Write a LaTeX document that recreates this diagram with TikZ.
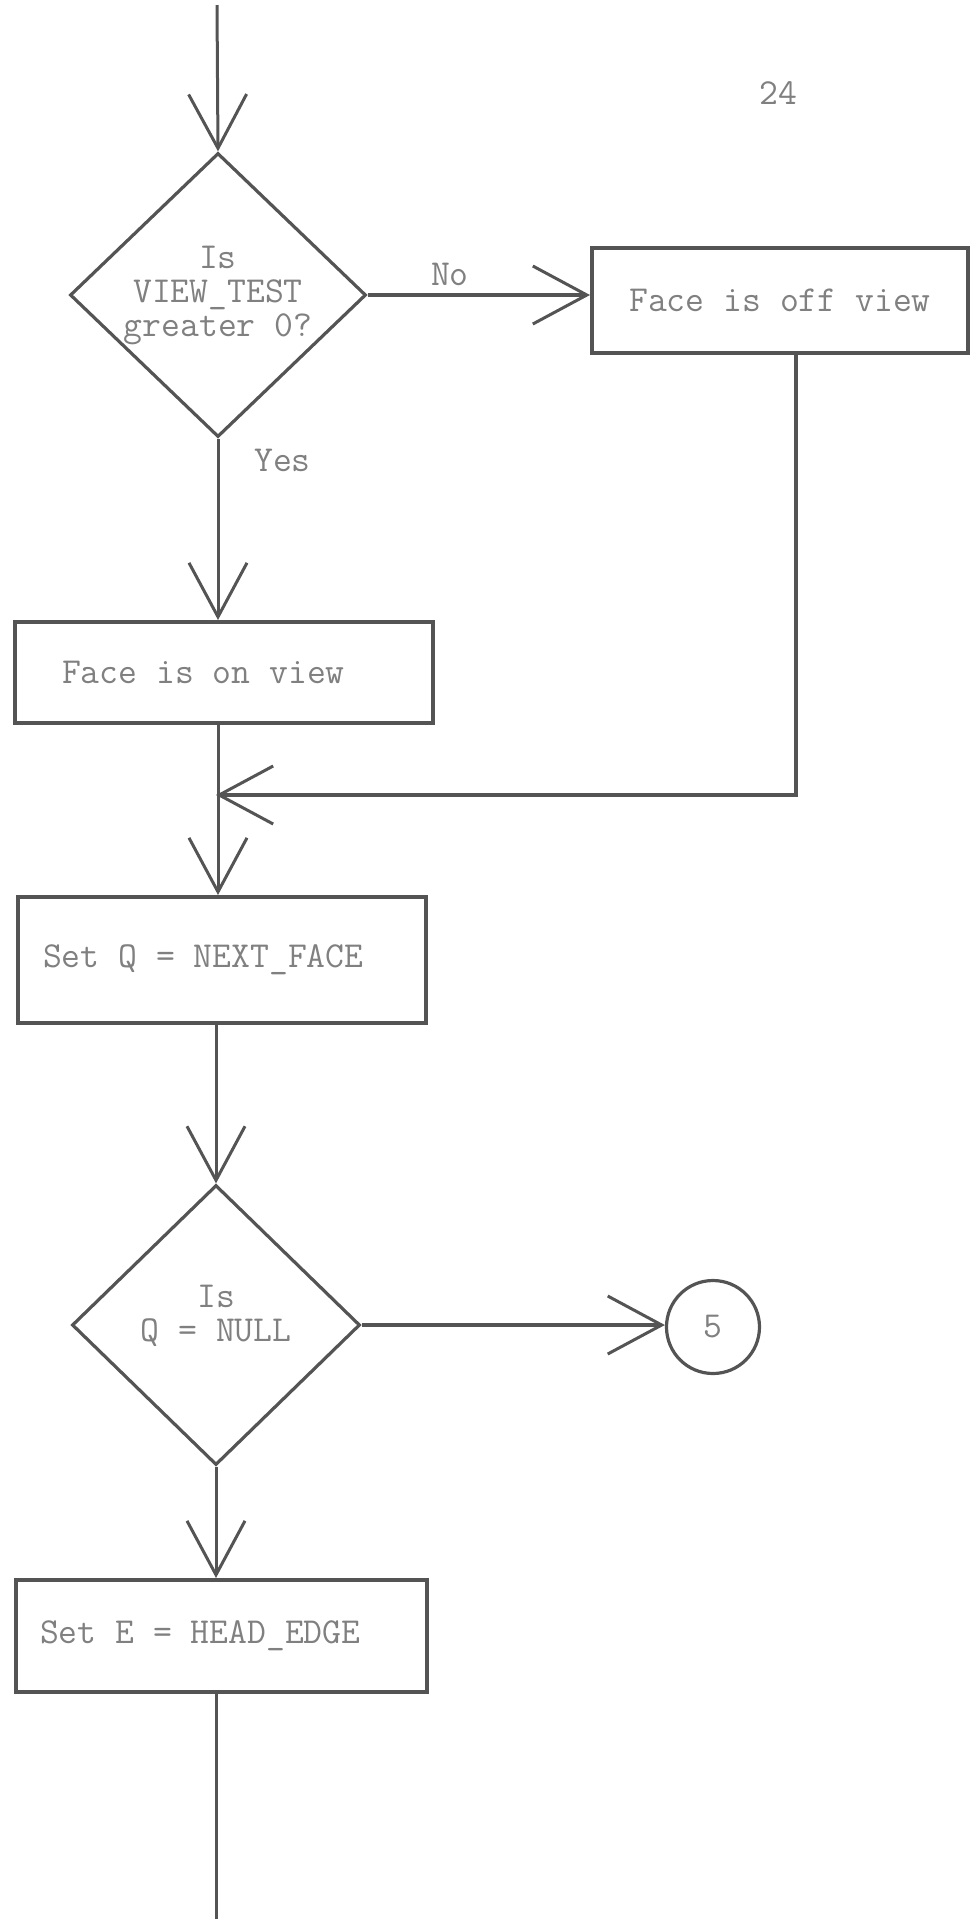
\documentclass[tikz,border=0pt]{standalone}
\usetikzlibrary{arrows.meta,shapes.geometric}

\begin{document}
\begin{tikzpicture}[x=0.5pt,y=-0.5pt,
	every node/.style={font=\ttfamily\fontsize{18.3}{17}\selectfont, text=typed},
	proc/.style={draw=ink, line width=2pt, rectangle, align=left, inner ysep=0pt,
		execute at begin node={\spaceskip=0pt\xspaceskip=0pt}},
	test/.style={draw=ink, line width=1.6pt, diamond, align=center, inner sep=-2pt},
	conn/.style={draw=ink, line width=1.6pt, circle, minimum size=46.5pt, inner sep=0pt},
	flow/.style={draw=ink, line width=1.5pt, -{Straight Barb[length=27pt,width=29pt,line width=1.5pt]}},
	wide/.style={line width=2.2pt}]
	\definecolor{ink}{gray}{0.33}
	\definecolor{typed}{gray}{0.5}
	\useasboundingbox (0,0) rectangle (977,1919);
	%% Nodes ------
	\node (page) at (778,93) {24};
	\node[test, minimum width=148pt, minimum height=142pt] (view) at (218,295) {Is\\VIEW\_TEST\\greater 0?};
	\node[proc, align=center, minimum width=188pt, minimum height=52.5pt] (offview) at (780,300) {Face is off view};
	\node[proc, text width=162pt, inner xsep=23.5pt, minimum height=50.5pt] (onview) at (224,672.5) {Face is on view};
	\node[proc, text width=179pt, inner xsep=12.5pt, minimum height=63pt] (setq) at (222,960) {Set Q = NEXT\_FACE};
	\node[test, minimum width=144pt, minimum height=140pt] (isnull) at (216,1325) {Is\\Q = NULL\\[-5pt]\mbox{}};
	\node[conn] (five) at (713,1327) {5};
	\node[proc, text width=181.5pt, inner xsep=12pt, minimum height=56pt] (sete) at (221.5,1636) {Set E = HEAD\_EDGE};
	\coordinate (entry) at (217,5);
	\coordinate (merge) at (216,795);
	\coordinate (exit) at (216,1919);
	%% Edges ---------
	\draw[flow] (entry) -- (view.north);
	\draw[flow, wide] (view.east) -- (view.east -| offview.west) node[pos=0.37, above] (no) {No};
	\draw[flow] (view.south) -- (view.south |- onview.north) node[pos=0.12, right=14pt] (yes) {Yes};
	\draw[flow] (onview.south -| view.south) -- (setq.north -| view.south);
	\draw[flow, wide] ([xshift=8pt]offview.south) |- (merge);
	\draw[flow] (setq.south -| isnull.north) -- (isnull.north);
	\draw[flow, wide] (isnull.east) -- (isnull.east -| five.west);
	\draw[flow] (isnull.south) -- (isnull.south |- sete.north);
	\draw[draw=ink, line width=1.5pt] (sete.south -| isnull.south) -- (exit);
\end{tikzpicture}
\end{document}
